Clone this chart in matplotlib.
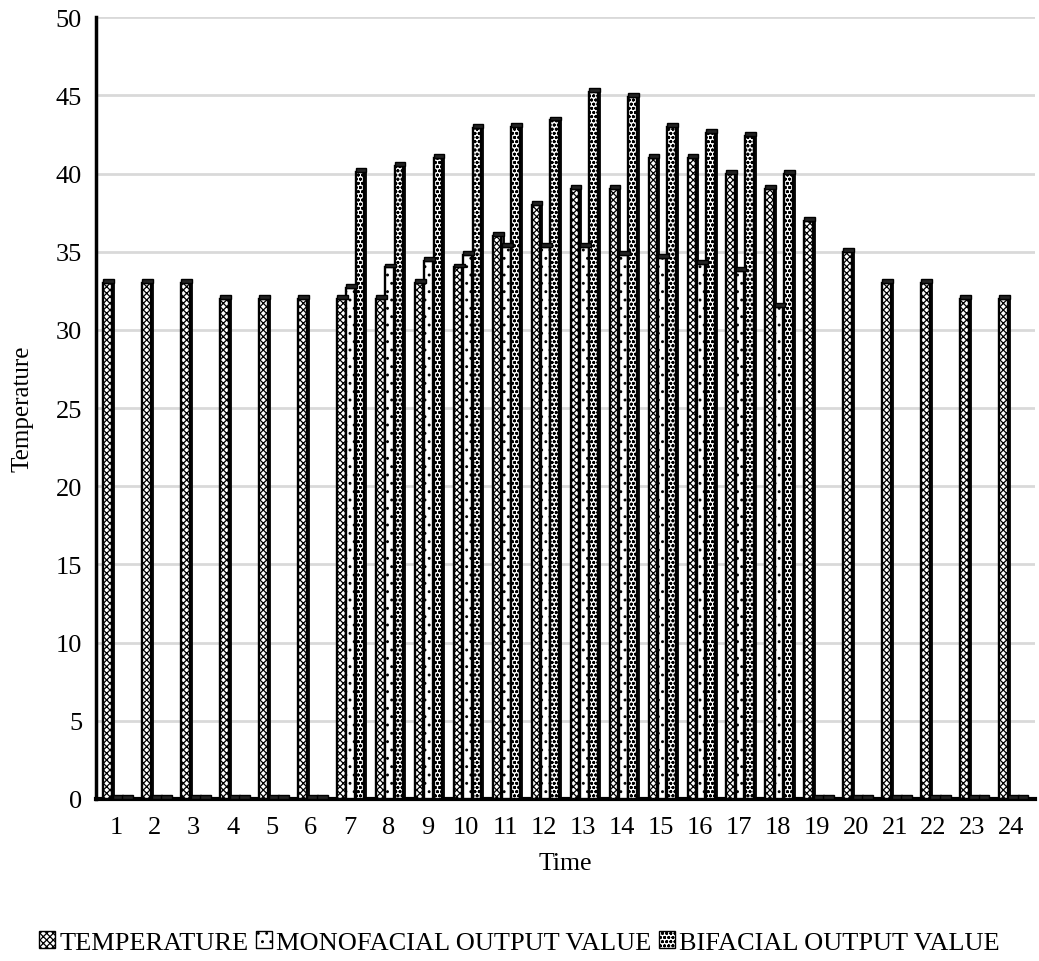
import numpy as np
import matplotlib.pyplot as plt
from matplotlib.patches import Patch

plt.rcParams['font.family'] = ['Liberation Serif', 'DejaVu Serif']
plt.rcParams['hatch.linewidth'] = 0.9

hours = list(range(1, 25))
temperature = [33, 33, 33, 32, 32, 32, 32, 32, 33, 34, 36, 38,
               39, 39, 41, 41, 40, 39, 37, 35, 33, 33, 32, 32]
monofacial = [0, 0, 0, 0, 0, 0, 32.7, 34.0, 34.4, 34.8, 35.3, 35.3,
              35.3, 34.8, 34.6, 34.2, 33.8, 31.5, 0, 0, 0, 0, 0, 0]
bifacial = [0, 0, 0, 0, 0, 0, 40.1, 40.5, 41.0, 42.9, 43.0, 43.4,
            45.2, 44.9, 43.0, 42.6, 42.4, 40.0, 0, 0, 0, 0, 0, 0]

series = [
    ("TEMPERATURE", temperature, "xxxxx", -0.21),
    ("MONOFACIAL OUTPUT VALUE", monofacial, "..", 0.03),
    ("BIFACIAL OUTPUT VALUE", bifacial, "oooo", 0.27),
]

fig = plt.figure(figsize=(10.39, 9.62), dpi=100)
ax = fig.add_axes([0.0924, 0.1684, 0.9036, 0.8126])

x = np.array(hours)
w = 0.22
side = 0.055
for name, vals, hatch, off in series:
    vals = np.array(vals)
    # front face
    ax.bar(x + off, vals, width=w, color="white", hatch=hatch,
           edgecolor="black", linewidth=1.7, zorder=3)
    # dark side face for the 3d look
    ax.bar(x + off + w / 2 + side / 2, vals, width=side, color="#444444",
           edgecolor="black", linewidth=1.3, zorder=2)
    # top cap
    ax.bar(x + off + side / 2, 0.25, bottom=vals, width=w + side,
           color="#222222", edgecolor="black", linewidth=1.0, zorder=4)

ax.set_xlim(0.49, 24.6)
ax.set_ylim(0, 50)
ax.set_yticks(range(0, 51, 5))
ax.set_xticks(hours)
ax.tick_params(axis="both", length=0, labelsize=19)
ax.tick_params(axis="x", pad=12)
ax.tick_params(axis="y", pad=10)
ax.yaxis.grid(True, color="#d9d9d9", linewidth=2, zorder=0)
ax.set_axisbelow(True)
for s in ["top", "right"]:
    ax.spines[s].set_visible(False)
ax.spines["left"].set_linewidth(2.5)
ax.spines["bottom"].set_linewidth(3)

ax.set_xlabel("Time", fontsize=18.5, labelpad=10)
ax.set_ylabel("Temperature", fontsize=18, labelpad=16)

handles = [Patch(facecolor="white", edgecolor="black", hatch=h, label=n)
           for n, _, h, _ in series]
fig.legend(handles=handles, loc="center", bbox_to_anchor=(0.5, 0.019),
           ncol=3, frameon=False, fontsize=19, handlelength=0.6,
           handleheight=0.6, handletextpad=0.15, columnspacing=0.3)

fig.savefig("out.png", dpi=100)
